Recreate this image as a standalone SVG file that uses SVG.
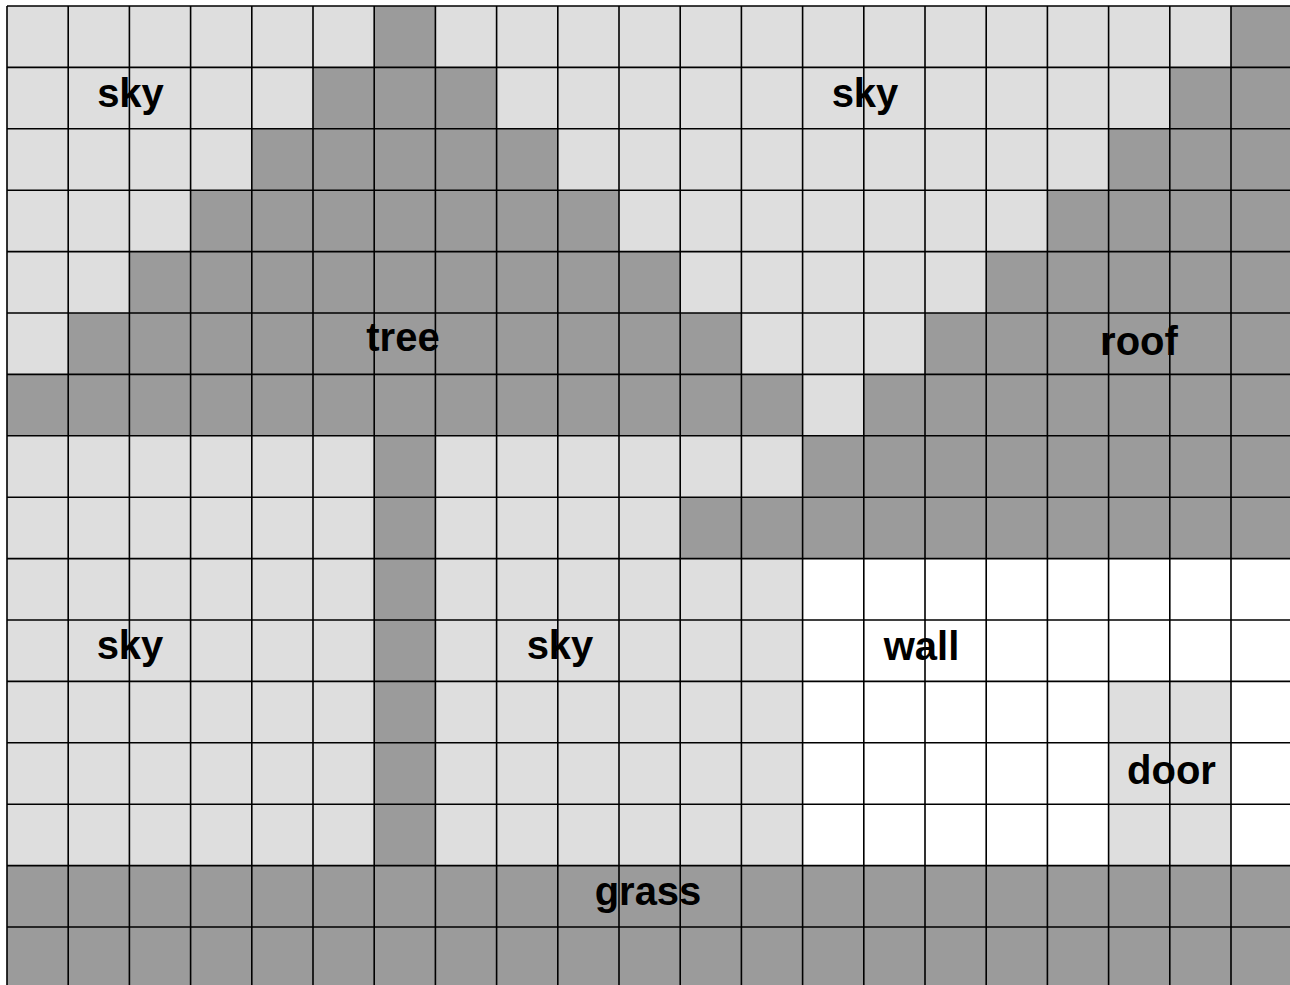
<svg xmlns="http://www.w3.org/2000/svg" width="1290" height="985" viewBox="0 0 1290 985">
<style>
.l{fill:#dedede}
.d{fill:#9b9b9b}
.w{fill:#ffffff}
.grid{fill:none;stroke:#000;stroke-width:1.6}
.t{font-family:"Liberation Sans",Arial,sans-serif;font-weight:bold;font-size:40px;fill:#000;text-anchor:middle}
</style>
<rect width="1290" height="985" fill="#ffffff"/>
<g id="sky">
<rect class="l" x="7" y="6" width="1285.2" height="859.6"/>
</g>
<g id="tree">
<rect class="d" x="374.2" y="6" width="61.2" height="61.4"/>
<rect class="d" x="313" y="67.4" width="183.6" height="61.4"/>
<rect class="d" x="251.8" y="128.8" width="306" height="61.4"/>
<rect class="d" x="190.6" y="190.2" width="428.4" height="61.4"/>
<rect class="d" x="129.4" y="251.6" width="550.8" height="61.4"/>
<rect class="d" x="68.2" y="313" width="673.2" height="61.4"/>
<rect class="d" x="7" y="374.4" width="795.6" height="61.4"/>
<rect class="d" x="374.2" y="435.8" width="61.2" height="429.8"/>
</g>
<g id="roof">
<rect class="d" x="1231" y="6" width="61.2" height="61.4"/>
<rect class="d" x="1169.8" y="67.4" width="122.4" height="61.4"/>
<rect class="d" x="1108.6" y="128.8" width="183.6" height="61.4"/>
<rect class="d" x="1047.4" y="190.2" width="244.8" height="61.4"/>
<rect class="d" x="986.2" y="251.6" width="306" height="61.4"/>
<rect class="d" x="925" y="313" width="367.2" height="61.4"/>
<rect class="d" x="863.8" y="374.4" width="428.4" height="61.4"/>
<rect class="d" x="802.6" y="435.8" width="489.6" height="61.4"/>
<rect class="d" x="680.2" y="497.2" width="612" height="61.4"/>
</g>
<g id="wall">
<rect class="w" x="802.6" y="558.6" width="489.6" height="122.8"/>
<rect class="w" x="802.6" y="681.4" width="306" height="184.2"/>
<rect class="w" x="1231" y="681.4" width="61.2" height="184.2"/>
</g>
<g id="door">
<rect class="l" x="1108.6" y="681.4" width="122.4" height="184.2"/>
</g>
<g id="grass">
<rect class="d" x="7" y="865.6" width="1285.2" height="122.8"/>
</g>
<g id="gridlines">
<path class="grid" d="M7 6V988.4M68.2 6V988.4M129.4 6V988.4M190.6 6V988.4M251.8 6V988.4M313 6V988.4M374.2 6V988.4M435.4 6V988.4M496.6 6V988.4M557.8 6V988.4M619 6V988.4M680.2 6V988.4M741.4 6V988.4M802.6 6V988.4M863.8 6V988.4M925 6V988.4M986.2 6V988.4M1047.4 6V988.4M1108.6 6V988.4M1169.8 6V988.4M1231 6V988.4
M7 6H1292.2M7 67.4H1292.2M7 128.8H1292.2M7 190.2H1292.2M7 251.6H1292.2M7 313H1292.2M7 374.4H1292.2M7 435.8H1292.2M7 497.2H1292.2M7 558.6H1292.2M7 620H1292.2M7 681.4H1292.2M7 742.8H1292.2M7 804.2H1292.2M7 865.6H1292.2M7 927H1292.2"/>
</g>
<g id="labels">
<text class="t" x="130.5" y="107">sky</text>
<text class="t" x="865" y="107">sky</text>
<text class="t" x="403" y="351">tree</text>
<text class="t" x="1139" y="355">roof</text>
<text class="t" x="130" y="659">sky</text>
<text class="t" x="560" y="659">sky</text>
<text class="t" x="921.5" y="660">wall</text>
<text class="t" x="1171.5" y="784">door</text>
<text class="t" x="648" y="905">grass</text>
</g>
</svg>
